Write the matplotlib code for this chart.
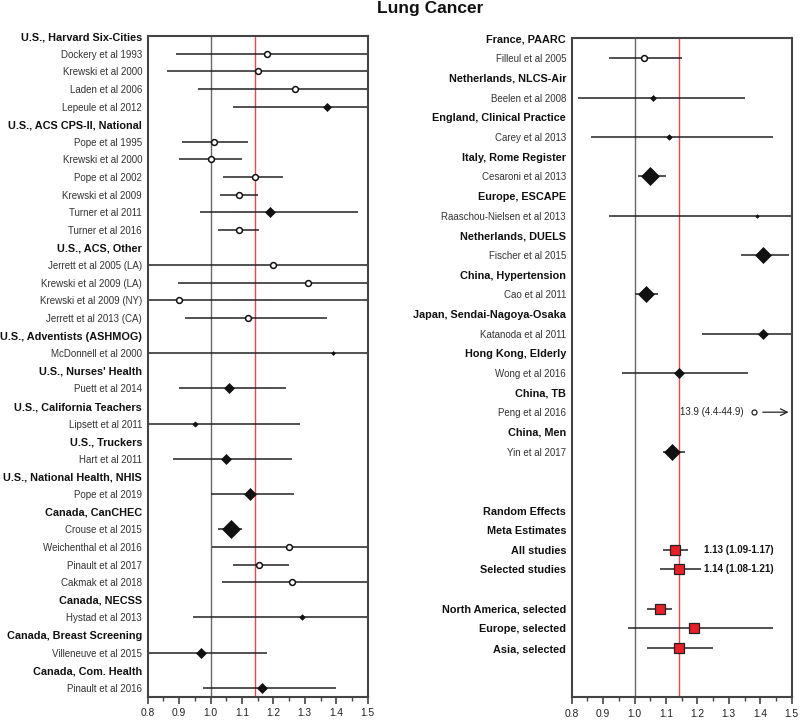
import matplotlib
matplotlib.use("Agg")
import matplotlib.pyplot as plt
from matplotlib.ticker import MultipleLocator

plt.rcParams['font.family'] = ['Liberation Sans', 'DejaVu Sans']

# ---------------- Left panel data ----------------
left_labels = [
    "U.S., Harvard Six-Cities", "Dockery et al 1993", "Krewski et al 2000", "Laden et al 2006", "Lepeule et al 2012",
    "U.S., ACS CPS-II, National", "Pope et al 1995", "Krewski et al 2000", "Pope et al 2002", "Krewski et al 2009",
    "Turner et al 2011", "Turner et al 2016",
    "U.S., ACS, Other", "Jerrett et al 2005 (LA)", "Krewski et al 2009 (LA)", "Krewski et al 2009 (NY)", "Jerrett et al 2013 (CA)",
    "U.S., Adventists (ASHMOG)", "McDonnell et al 2000",
    "U.S., Nurses' Health", "Puett et al 2014",
    "U.S., California Teachers", "Lipsett et al 2011",
    "U.S., Truckers", "Hart et al 2011",
    "U.S., National Health, NHIS", "Pope et al 2019",
    "Canada, CanCHEC", "Crouse et al 2015", "Weichenthal et al 2016", "Pinault et al 2017", "Cakmak et al 2018",
    "Canada, NECSS", "Hystad et al 2013",
    "Canada, Breast Screening", "Villeneuve et al 2015",
    "Canada, Com. Health", "Pinault et al 2016",
]
left_kind = [
    "h", "o", "o", "o", "d",
    "h", "o", "o", "o", "o", "d", "o",
    "h", "o", "o", "o", "o",
    "h", "d",
    "h", "d",
    "h", "d",
    "h", "d",
    "h", "d",
    "h", "d", "o", "o", "o",
    "h", "d",
    "h", "d",
    "h", "d",
]
left_est = [None, 1.18, 1.15, 1.27, 1.37,
            None, 1.01, 1.00, 1.14, 1.09, 1.19, 1.09,
            None, 1.20, 1.31, 0.90, 1.12,
            None, 1.39,
            None, 1.06,
            None, 0.95,
            None, 1.05,
            None, 1.125,
            None, 1.065, 1.25, 1.155, 1.26,
            None, 1.29,
            None, 0.97,
            None, 1.165]
left_lo = [None, 0.89, 0.86, 0.96, 1.07,
           None, 0.91, 0.90, 1.04, 1.03, 0.965, 1.025,
           None, 0.75, 0.895, 0.75, 0.92,
           None, 0.75,
           None, 0.90,
           None, 0.75,
           None, 0.88,
           None, 1.00,
           None, 1.025, 1.005, 1.07, 1.035,
           None, 0.945,
           None, 0.75,
           None, 0.975]
left_hi = [None, 1.60, 1.60, 1.60, 1.75,
           None, 1.12, 1.10, 1.23, 1.15, 1.47, 1.155,
           None, 1.60, 1.60, 1.60, 1.37,
           None, 1.60,
           None, 1.24,
           None, 1.285,
           None, 1.26,
           None, 1.265,
           None, 1.10, 1.60, 1.25, 1.60,
           None, 1.60,
           None, 1.18,
           None, 1.40]
left_weight = [0, 0, 0, 0, 4.2,
               0, 0, 0, 0, 0, 4.8, 0,
               0, 0, 0, 0, 0,
               0, 2.0,
               0, 5.4,
               0, 2.6,
               0, 5.0,
               0, 6.6,
               0, 9.6, 0, 0, 0,
               0, 2.8,
               0, 4.6,
               0, 4.6]

# ---------------- Right panel data ----------------
right_labels = [
    "France, PAARC", "Filleul et al 2005",
    "Netherlands, NLCS-Air", "Beelen et al 2008",
    "England, Clinical Practice", "Carey et al 2013",
    "Italy, Rome Register", "Cesaroni et al 2013",
    "Europe, ESCAPE", "Raaschou-Nielsen et al 2013",
    "Netherlands, DUELS", "Fischer et al 2015",
    "China, Hypertension", "Cao et al 2011",
    "Japan, Sendai-Nagoya-Osaka", "Katanoda et al 2011",
    "Hong Kong, Elderly", "Wong et al 2016",
    "China, TB", "Peng et al 2016",
    "China, Men", "Yin et al 2017",
    "", "",
    "Random Effects", "Meta Estimates",
    "All studies", "Selected studies",
    "",
    "North America, selected", "Europe, selected", "Asia, selected",
]
right_kind = [
    "h", "o",
    "h", "d",
    "h", "d",
    "h", "d",
    "h", "d",
    "h", "d",
    "h", "d",
    "h", "d",
    "h", "d",
    "h", "off",
    "h", "d",
    "b", "b",
    "h", "h",
    "m", "m",
    "b",
    "m", "m", "m",
]
right_est = [None, 1.03, None, 1.06, None, 1.11, None, 1.05, None, 1.39, None, 1.41,
             None, 1.035, None, 1.41, None, 1.14, None, 13.9, None, 1.12,
             None, None, None, None, 1.13, 1.14, None, 1.08, 1.19, 1.14]
right_lo = [None, 0.92, None, 0.82, None, 0.86, None, 1.01, None, 0.92, None, 1.34,
            None, 1.00, None, 1.215, None, 0.96, None, 4.4, None, 1.09,
            None, None, None, None, 1.09, 1.08, None, 1.04, 0.98, 1.04]
right_hi = [None, 1.15, None, 1.35, None, 1.44, None, 1.10, None, 1.60, None, 1.49,
            None, 1.075, None, 1.60, None, 1.36, None, 44.9, None, 1.16,
            None, None, None, None, 1.17, 1.21, None, 1.12, 1.44, 1.25]
right_weight = [0, 0, 0, 3.0, 0, 2.8, 0, 8.8, 0, 1.8, 0, 7.8,
                0, 7.8, 0, 5.0, 0, 4.6, 0, 0, 0, 8.2,
                0, 0, 0, 0, 7.4, 7.4, 0, 7.4, 7.4, 7.4]
meta_text_rows = ["All studies", "Selected studies"]

# off-scale study (Peng) placeholder symbol and arrow positions on the x scale
offscale_text_x = 1.145
offscale_marker_x = 1.38
offscale_arrow = (1.408, 1.49)

x_ticks = [0.8, 0.9, 1.0, 1.1, 1.2, 1.3, 1.4, 1.5]
null_value = 1.0
ref_value = 1.14

# ---------------- Figure ----------------
fig = plt.figure(figsize=(8, 7.2), dpi=100)
ax_l = fig.add_axes([0.1846, 0.0324, 0.275, 0.918])
ax_r = fig.add_axes([0.7146, 0.0315, 0.275, 0.9155])

spine_col = '#444444'
line_col = '#222222'


def style_axes(ax, n_rows, bottom_pad):
    ax.set_xlim(0.8, 1.5)
    ax.set_ylim(n_rows - 1 + bottom_pad, -0.02)
    ax.set_xticks(x_ticks)
    ax.set_xticklabels([f"{t:.1f}" for t in x_ticks], fontsize=7.4, color='#222222')
    ax.xaxis.set_minor_locator(MultipleLocator(0.05))
    ax.tick_params(axis='x', which='major', direction='out', length=5, width=1.2, color=spine_col, pad=3.5)
    ax.tick_params(axis='x', which='minor', direction='out', length=3, width=1.0, color=spine_col)
    ax.tick_params(axis='y', length=0, pad=4)
    for s in ax.spines.values():
        s.set_color(spine_col)
        s.set_linewidth(1.5)
    ax.axvline(null_value, color='#666666', lw=1.0, zorder=1)
    ax.axvline(ref_value, color='#f04848', lw=1.0, zorder=1)


def draw_panel(ax, labels, kind, est, lo, hi, weight):
    n = len(labels)
    ax.set_yticks(range(n))
    ax.set_yticklabels(labels)
    for i, tl in enumerate(ax.get_yticklabels()):
        if kind[i] in ('h', 'm'):
            tl.set_fontweight('bold')
            tl.set_fontsize(7.8)
            tl.set_color('#111111')
        else:
            tl.set_fontsize(7)
            tl.set_color('#333333')
    for i in range(n):
        k = kind[i]
        if k in ('h', 'b', 'off'):
            continue
        ax.plot([lo[i], hi[i]], [i, i], color=line_col, lw=1.1, zorder=2, solid_capstyle='butt')
        if k == 'o':
            ax.plot(est[i], i, marker='o', ms=4.2, mfc='white', mec='#111111', mew=1.1, zorder=3)
        elif k == 'd':
            ax.plot(est[i], i, marker='D', ms=weight[i], mfc='#111111', mec='#111111', mew=0.5, zorder=3)
        elif k == 'm':
            ax.plot(est[i], i, marker='s', ms=weight[i], mfc='#e8202a', mec='#222222', mew=0.9, zorder=3)
    return n


n_l = draw_panel(ax_l, left_labels, left_kind, left_est, left_lo, left_hi, left_weight)
style_axes(ax_l, n_l, 0.5)

n_r = draw_panel(ax_r, right_labels, right_kind, right_est, right_lo, right_hi, right_weight)
style_axes(ax_r, n_r, 2.5)

# meta-estimate value labels
for i, lab in enumerate(right_labels):
    if lab in meta_text_rows:
        ax_r.text(1.222, i, f"{right_est[i]:.2f} ({right_lo[i]:.2f}-{right_hi[i]:.2f})",
                  ha='left', va='center', fontsize=7, fontweight='bold', color='#111111')
    if right_kind[i] == 'off':
        ax_r.text(offscale_text_x, i, f"{right_est[i]} ({right_lo[i]}-{right_hi[i]})",
                  ha='left', va='center', fontsize=7, color='#222222')
        ax_r.plot(offscale_marker_x, i, marker='o', ms=3.6, mfc='white', mec='#222222', mew=0.9, zorder=3)
        ax_r.annotate('', xy=(offscale_arrow[1], i), xytext=(offscale_arrow[0], i),
                      arrowprops=dict(arrowstyle='->', color='#222222', lw=0.9,
                                      mutation_scale=12, shrinkA=0, shrinkB=0))

fig.text(0.5375, 0.9875, "Lung Cancer", ha='center', va='center', fontsize=12.5, fontweight='bold', color='#111111')

fig.savefig("out.png", dpi=100)
